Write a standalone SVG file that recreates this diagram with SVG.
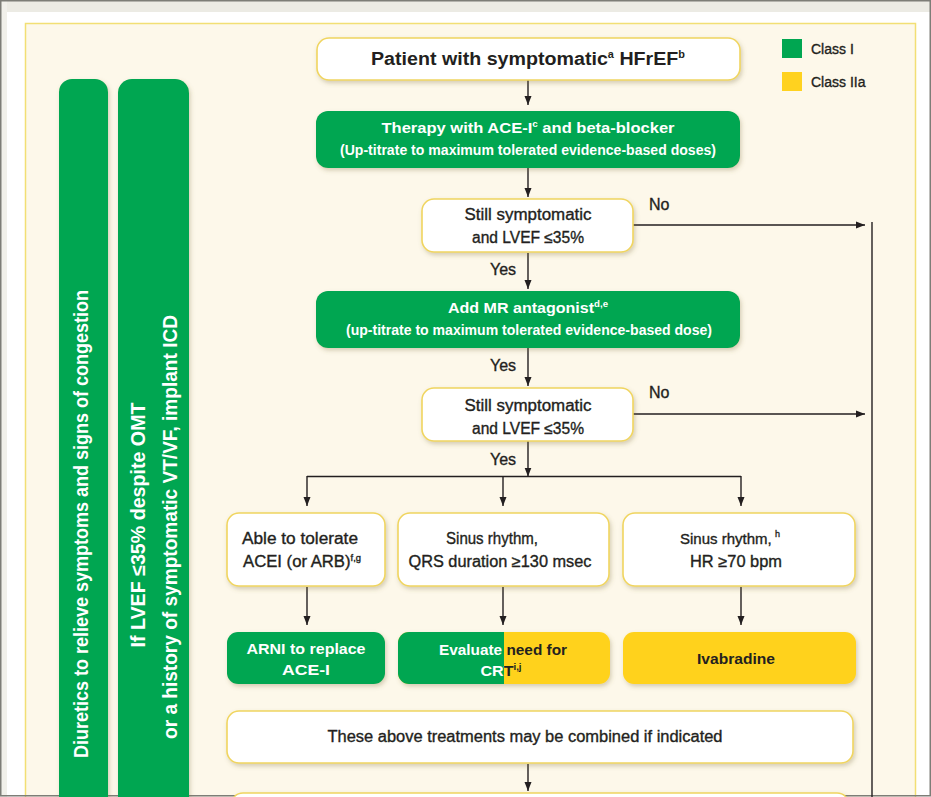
<svg xmlns="http://www.w3.org/2000/svg" width="931" height="797" viewBox="0 0 931 797">
<defs>
<style>
.t{font-family:"Liberation Sans",Arial,sans-serif;}
.b{font-weight:bold;}
.dk{fill:#231f20;stroke:#231f20;stroke-width:0.35;}
.dkb{fill:#231f20;}
.wt{fill:#ffffff;}
.wbox{fill:#ffffff;stroke:#f0d560;stroke-width:1.6;filter:url(#sh);}
.gbox{fill:#00a651;filter:url(#sh);}
.ybox{fill:#ffd21f;filter:url(#sh);}
.con{fill:none;stroke:#231f20;stroke-width:1.4;}
</style>
<filter id="sh" x="-10%" y="-20%" width="125%" height="150%">
<feDropShadow dx="1.5" dy="2.5" stdDeviation="2" flood-color="#7a6a3a" flood-opacity="0.3"/>
</filter>
<marker id="ah" markerWidth="9" markerHeight="8" refX="9" refY="4" orient="auto" markerUnits="userSpaceOnUse">
<path d="M0,0.5 L9,4 L0,7.5 Z" fill="#231f20"/>
</marker>
<clipPath id="cl"><rect x="390" y="620" width="114" height="80"/></clipPath>
<clipPath id="cr"><rect x="504" y="620" width="120" height="80"/></clipPath>
</defs>

<!-- page frame -->
<rect x="0" y="0" width="931" height="797" fill="#ffffff"/>
<rect x="0" y="0" width="931" height="12" fill="#ecebe4"/>
<rect x="0" y="0" width="7" height="797" fill="#f1f0ea"/>
<rect x="25.5" y="23.5" width="890" height="800" fill="#fdf8ea" stroke="#f2df74" stroke-width="1.5"/>
<rect x="0.75" y="0.75" width="929.5" height="795" fill="none" stroke="#7d7d77" stroke-width="1.5"/>

<!-- legend -->
<g id="legend">
<rect x="782" y="39" width="20" height="19" fill="#00a651"/>
<text class="t dk" x="811" y="54" font-size="14">Class I</text>
<rect x="782" y="72" width="20" height="19" fill="#ffd21f"/>
<text class="t dk" x="811" y="87" font-size="14">Class IIa</text>
</g>

<!-- side bars -->
<g id="diuretics">
<rect class="gbox" x="59" y="79" width="49" height="740" rx="13"/>
<text class="t b wt" font-size="20" text-anchor="middle" transform="translate(88,524) rotate(-90)" textLength="468" lengthAdjust="spacingAndGlyphs">Diuretics to relieve symptoms and signs of congestion</text>
</g>
<g id="icd">
<rect class="gbox" x="118" y="79" width="71" height="740" rx="14"/>
<text class="t b wt" font-size="20" text-anchor="middle" transform="translate(145,525) rotate(-90)" textLength="245" lengthAdjust="spacingAndGlyphs">If LVEF ≤35% despite OMT</text>
<text class="t b wt" font-size="20" text-anchor="middle" transform="translate(177,527) rotate(-90)" textLength="424" lengthAdjust="spacingAndGlyphs">or a history of symptomatic VT/VF, implant ICD</text>
</g>

<!-- connectors -->
<g id="connectors">
<path class="con" d="M528,80 V105" marker-end="url(#ah)"/>
<path class="con" d="M528,168 V197" marker-end="url(#ah)"/>
<path class="con" d="M633,225 H865" marker-end="url(#ah)"/>
<path class="con" d="M528,253 V289" marker-end="url(#ah)"/>
<path class="con" d="M528,348 V386" marker-end="url(#ah)"/>
<path class="con" d="M633,414 H865" marker-end="url(#ah)"/>
<path class="con" d="M872,222 V797"/>
<path class="con" d="M528,441 V476.5" marker-end="url(#ah)"/>
<path class="con" d="M307,476.5 H741"/>
<path class="con" d="M307,476 V506" marker-end="url(#ah)"/>
<path class="con" d="M503,476 V506" marker-end="url(#ah)"/>
<path class="con" d="M741,476 V506" marker-end="url(#ah)"/>
<path class="con" d="M307,587 V625" marker-end="url(#ah)"/>
<path class="con" d="M503,587 V625" marker-end="url(#ah)"/>
<path class="con" d="M741,587 V625" marker-end="url(#ah)"/>
<path class="con" d="M528,764 V791" marker-end="url(#ah)"/>
<text class="t dk" x="649" y="210" font-size="16">No</text>
<text class="t dk" x="649" y="398" font-size="16">No</text>
<text class="t dk" x="490" y="275" font-size="16">Yes</text>
<text class="t dk" x="490" y="371" font-size="16">Yes</text>
<text class="t dk" x="490" y="465" font-size="16">Yes</text>
</g>

<g id="n1">
<rect class="wbox" x="317" y="38" width="423" height="42" rx="12"/>
<text class="t b dkb" x="528" y="65" font-size="18" text-anchor="middle" textLength="314" lengthAdjust="spacingAndGlyphs">Patient with symptomatic<tspan font-size="10" dy="-7">a</tspan><tspan dy="7"> HFrEF</tspan><tspan font-size="10" dy="-7">b</tspan></text>
</g>

<g id="n2">
<rect class="gbox" x="316" y="111" width="424" height="57" rx="12"/>
<text class="t b wt" x="528" y="133" font-size="15" text-anchor="middle" textLength="293" lengthAdjust="spacingAndGlyphs">Therapy with ACE-I<tspan font-size="9" dy="-6">c</tspan><tspan dy="6"> and beta-blocker</tspan></text>
<text class="t b wt" x="528" y="155" font-size="14.5" text-anchor="middle" textLength="376" lengthAdjust="spacingAndGlyphs">(Up-titrate to maximum tolerated evidence-based doses)</text>
</g>

<g id="n3">
<rect class="wbox" x="422" y="199" width="211" height="53" rx="12"/>
<text class="t dk" x="528" y="220" font-size="16" text-anchor="middle" textLength="127" lengthAdjust="spacingAndGlyphs">Still symptomatic</text>
<text class="t dk" x="528" y="243" font-size="16" text-anchor="middle" textLength="112" lengthAdjust="spacingAndGlyphs">and LVEF ≤35%</text>
</g>

<g id="n4">
<rect class="gbox" x="316" y="291" width="424" height="57" rx="12"/>
<text class="t b wt" x="528" y="313" font-size="15" text-anchor="middle" textLength="160" lengthAdjust="spacingAndGlyphs">Add MR antagonist<tspan font-size="9" dy="-6">d,e</tspan></text>
<text class="t b wt" x="529" y="335" font-size="14.5" text-anchor="middle" textLength="366" lengthAdjust="spacingAndGlyphs">(up-titrate to maximum tolerated evidence-based dose)</text>
</g>

<g id="n5">
<rect class="wbox" x="422" y="388" width="211" height="53" rx="12"/>
<text class="t dk" x="528" y="411" font-size="16" text-anchor="middle" textLength="127" lengthAdjust="spacingAndGlyphs">Still symptomatic</text>
<text class="t dk" x="528" y="434" font-size="16" text-anchor="middle" textLength="112" lengthAdjust="spacingAndGlyphs">and LVEF ≤35%</text>
</g>

<g id="n6">
<rect class="wbox" x="227" y="513" width="158" height="73" rx="12"/>
<text class="t dk" x="300" y="544" font-size="16" text-anchor="middle" textLength="116" lengthAdjust="spacingAndGlyphs">Able to tolerate</text>
<text class="t dk" x="302" y="567" font-size="16" text-anchor="middle" textLength="118" lengthAdjust="spacingAndGlyphs">ACEI (or ARB)<tspan font-size="9" dy="-6">f,g</tspan></text>
</g>

<g id="n7">
<rect class="wbox" x="398" y="513" width="211" height="73" rx="12"/>
<text class="t dk" x="492" y="544" font-size="16" text-anchor="middle" textLength="92" lengthAdjust="spacingAndGlyphs">Sinus rhythm,</text>
<text class="t dk" x="500" y="567" font-size="16" text-anchor="middle" textLength="183" lengthAdjust="spacingAndGlyphs">QRS duration ≥130 msec</text>
</g>

<g id="n8">
<rect class="wbox" x="623" y="513" width="232" height="73" rx="12"/>
<text class="t dk" x="680" y="544" font-size="15">Sinus rhythm,</text>
<text class="t dk" x="775" y="537" font-size="9">h</text>
<text class="t dk" x="736" y="567" font-size="16" text-anchor="middle" textLength="92" lengthAdjust="spacingAndGlyphs">HR ≥70 bpm</text>
</g>

<g id="n9">
<rect class="gbox" x="227" y="632" width="158" height="52" rx="11"/>
<text class="t b wt" x="306" y="654" font-size="15" text-anchor="middle" textLength="119" lengthAdjust="spacingAndGlyphs">ARNI to replace</text>
<text class="t b wt" x="306" y="675" font-size="15" text-anchor="middle" textLength="48" lengthAdjust="spacingAndGlyphs">ACE-I</text>
</g>

<g id="n10">
<rect x="398" y="632" width="212" height="52" rx="11" fill="#ffd21f" filter="url(#sh)"/>
<path d="M504,632 H409 A11,11 0 0 0 398,643 V673 A11,11 0 0 0 409,684 H504 Z" fill="#00a651"/>
<g clip-path="url(#cl)">
<text class="t b wt" x="503" y="655" font-size="15" text-anchor="middle" textLength="128" lengthAdjust="spacingAndGlyphs">Evaluate need for</text>
<text class="t b wt" x="501" y="676" font-size="15" text-anchor="middle" textLength="41" lengthAdjust="spacingAndGlyphs">CRT<tspan font-size="9" dy="-6">i,j</tspan></text>
</g>
<g clip-path="url(#cr)">
<text class="t b dkb" x="503" y="655" font-size="15" text-anchor="middle" textLength="128" lengthAdjust="spacingAndGlyphs">Evaluate need for</text>
<text class="t b dkb" x="501" y="676" font-size="15" text-anchor="middle" textLength="41" lengthAdjust="spacingAndGlyphs">CRT<tspan font-size="9" dy="-6">i,j</tspan></text>
</g>
</g>

<g id="n11">
<rect class="ybox" x="623" y="632" width="233" height="52" rx="11"/>
<text class="t b dkb" x="736" y="664" font-size="15" text-anchor="middle" textLength="78" lengthAdjust="spacingAndGlyphs">Ivabradine</text>
</g>

<g id="n12">
<rect class="wbox" x="227" y="711" width="626" height="52" rx="12"/>
<text class="t dk" x="525" y="742" font-size="16" text-anchor="middle" textLength="395" lengthAdjust="spacingAndGlyphs">These above treatments may be combined if indicated</text>
</g>

<g id="n13">
<rect class="wbox" x="231" y="793" width="618" height="52" rx="12"/>
</g>
</svg>
